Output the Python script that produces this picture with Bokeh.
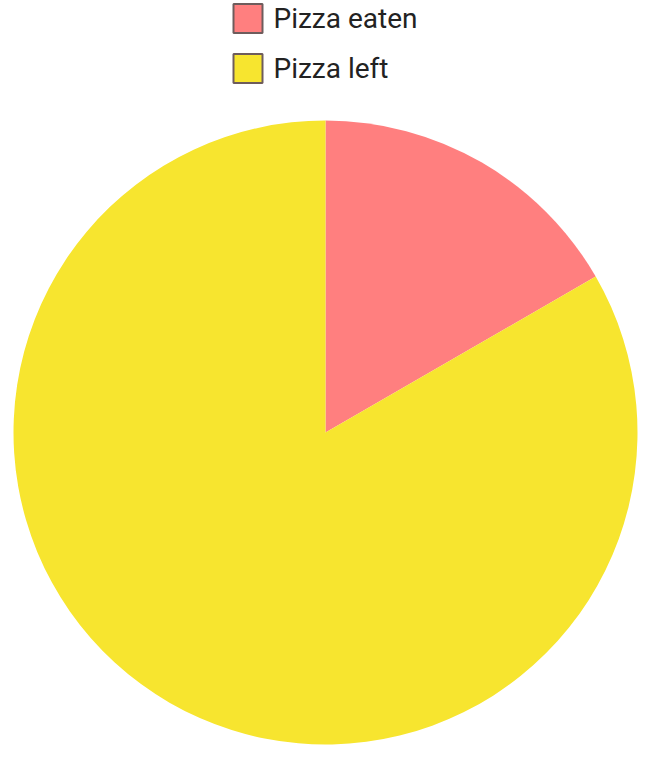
import math
from bokeh.plotting import figure
from bokeh.models import Range1d, ColumnDataSource
from bokeh.core.properties import value
from bokeh.embed import file_html
from bokeh.resources import INLINE

labels = ["Pizza eaten", "Pizza left"]
amounts = [1, 5]
colors = ["#FF7F7F", "#F7E52F"]

W, H = 650, 761
p = figure(width=W, height=H, output_backend="svg", toolbar_location=None,
           x_range=Range1d(0, W), y_range=Range1d(0, H), min_border=0)
p.axis.visible = False
p.grid.visible = False
p.outline_line_color = None

total = sum(amounts)
starts, ends = [], []
a = math.pi / 2
for v in amounts:
    starts.append(a)
    a -= 2 * math.pi * v / total
    ends.append(a)

src = ColumnDataSource(dict(label=labels, amount=amounts, color=colors,
                            start=starts, end=ends))
cx, cy, r = 325, H - 432, 312
p.wedge(x=cx, y=cy, radius=r, start_angle="start", end_angle="end",
        direction="clock", fill_color="color", line_color=None, source=src)

# manual legend
ly = [H - 18, H - 68]
leg = ColumnDataSource(dict(x=[247.5, 247.5], y=ly, color=colors, label=labels,
                            tx=[273, 273]))
p.rect(x="x", y="y", width=29, height=29, fill_color="color",
       line_color="#6E5C5C", line_width=2, source=leg)
p.text(x="tx", y="y", text="label", text_font=value("Roboto"),
       text_font_size="28px", text_baseline="middle", text_color="#222222",
       source=leg)

open("out.html", "w").write(file_html(p, INLINE))
